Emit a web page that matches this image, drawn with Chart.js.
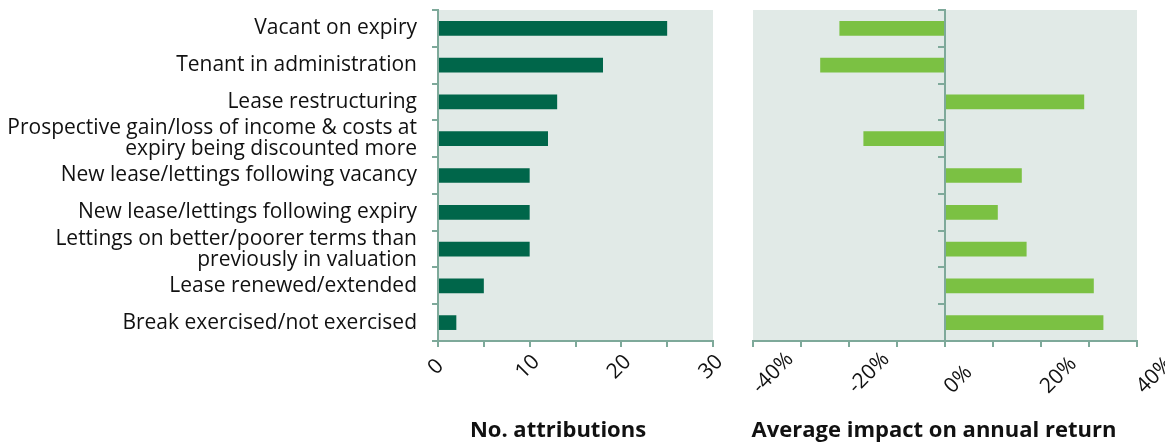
<!DOCTYPE html>
<html>
<head>
<meta charset="utf-8">
<script src="https://cdn.jsdelivr.net/npm/chart.js@4"></script>
<style>
	html, body { margin: 0; padding: 0; background: #fff; }
	#wrap { position: relative; width: 1165px; height: 443px; overflow: hidden; }
	#left-box { position: absolute; left: 0; top: 0; width: 730px; height: 443px; }
	#right-box { position: absolute; left: 730px; top: 0; width: 435px; height: 443px; }
	.axis-title {
		position: absolute; top: 417px; font-family: "Open Sans", sans-serif;
		font-weight: bold; font-size: 22px; line-height: 22px; color: #111; white-space: nowrap;
		transform: translateX(-50%);
	}
</style>
</head>
<body>
<div id="wrap">
	<div id="left-box"><canvas id="count-chart"></canvas></div>
	<div id="right-box"><canvas id="impact-chart"></canvas></div>
	<div class="axis-title" style="left:558px">No. attributions</div>
	<div class="axis-title" style="left:934px">Average impact on annual return</div>
</div>
<script>
const categories = [
	'Vacant on expiry',
	'Tenant in administration',
	'Lease restructuring',
	['Prospective gain/loss of income & costs at', 'expiry being discounted more'],
	'New lease/lettings following vacancy',
	'New lease/lettings following expiry',
	['Lettings on better/poorer terms than', 'previously in valuation'],
	'Lease renewed/extended',
	'Break exercised/not exercised'
];
const attributions = [25, 18, 13, 12, 10, 10, 10, 5, 2];
const avgImpact = [-22, -26, 29, -17, 16, 11, 17, 31, 33];

const countTicks = [0, 10, 20, 30];
const impactTicks = [-40, -20, 0, 20, 40];

const AXIS_COLOR = '#7ea99a';
const PLOT_BG = '#e1eae7';
const FONT = 'Open Sans';

// paint the plot area background
const plotBackground = {
	id: 'plotBackground',
	beforeDraw(chart) {
		const a = chart.chartArea;
		const ctx = chart.ctx;
		ctx.save();
		ctx.fillStyle = PLOT_BG;
		ctx.fillRect(a.left, a.top, a.right - a.left, a.bottom - a.top);
		ctx.restore();
	}
};

// rotated x tick labels, placed from the x scale
function tickLabels(values, format, align, dx, dy) {
	return {
		id: 'tickLabels',
		afterDraw(chart) {
			const scale = chart.scales.x;
			const ctx = chart.ctx;
			ctx.save();
			ctx.font = '21px "' + FONT + '"';
			ctx.fillStyle = '#111';
			ctx.textAlign = align;
			ctx.textBaseline = 'middle';
			values.forEach(v => {
				ctx.save();
				ctx.translate(scale.getPixelForValue(v) + dx, scale.top + dy);
				ctx.rotate(-Math.PI / 4);
				ctx.fillText(format(v), 0, 0);
				ctx.restore();
			});
			ctx.restore();
		}
	};
}

Chart.defaults.font.family = FONT;
Chart.defaults.color = '#111';

function xAxis(min, max, step) {
	return {
		type: 'linear',
		min: min,
		max: max,
		afterFit: (s) => { s.height = 102; s.paddingLeft = 0; s.paddingRight = 0; },
		ticks: { stepSize: step, autoSkip: false, display: false },
		grid: { drawOnChartArea: false, drawTicks: true, tickLength: 6, color: AXIS_COLOR, lineWidth: 2 },
		border: { display: true, color: AXIS_COLOR, width: 2 }
	};
}

new Chart(document.getElementById('count-chart'), {
	type: 'bar',
	data: {
		labels: categories,
		datasets: [{
			data: attributions,
			backgroundColor: '#00664a',
			barPercentage: 0.4,
			categoryPercentage: 1
		}]
	},
	options: {
		indexAxis: 'y',
		responsive: true,
		maintainAspectRatio: false,
		animation: false,
		layout: { padding: { top: 10, right: 17, left: 0, bottom: 0 } },
		plugins: { legend: { display: false }, tooltip: { enabled: false } },
		scales: {
			x: xAxis(0, 30, 5),
			y: {
				afterFit: (s) => { s.width = 438; s.paddingTop = 0; s.paddingBottom = 0; },
				ticks: { autoSkip: false, padding: 15, font: { size: 21, lineHeight: 1.0 }, color: '#111' },
				grid: { drawOnChartArea: false, tickLength: 6, color: AXIS_COLOR, lineWidth: 2 },
				border: { display: true, color: AXIS_COLOR, width: 2 }
			}
		}
	},
	plugins: [plotBackground, tickLabels(countTicks, (v) => String(v), 'center', -2, 26)]
});

new Chart(document.getElementById('impact-chart'), {
	type: 'bar',
	data: {
		labels: categories,
		datasets: [{
			data: avgImpact,
			backgroundColor: '#7bc143',
			barPercentage: 0.4,
			categoryPercentage: 1
		}]
	},
	options: {
		indexAxis: 'y',
		responsive: true,
		maintainAspectRatio: false,
		animation: false,
		layout: { padding: { top: 10, right: 28, left: 23, bottom: 0 } },
		plugins: { legend: { display: false }, tooltip: { enabled: false } },
		scales: {
			x: xAxis(-40, 40, 10),
			y: {
				position: { x: 0 },
				afterFit: (s) => { s.paddingTop = 0; s.paddingBottom = 0; },
				ticks: { display: false },
				grid: { drawOnChartArea: false, tickLength: 6, color: AXIS_COLOR, lineWidth: 2 },
				border: { display: true, color: AXIS_COLOR, width: 2 }
			}
		}
	},
	plugins: [plotBackground, tickLabels(impactTicks, (v) => v + '%', 'left', 3, 49)]
});
</script>
</body>
</html>
